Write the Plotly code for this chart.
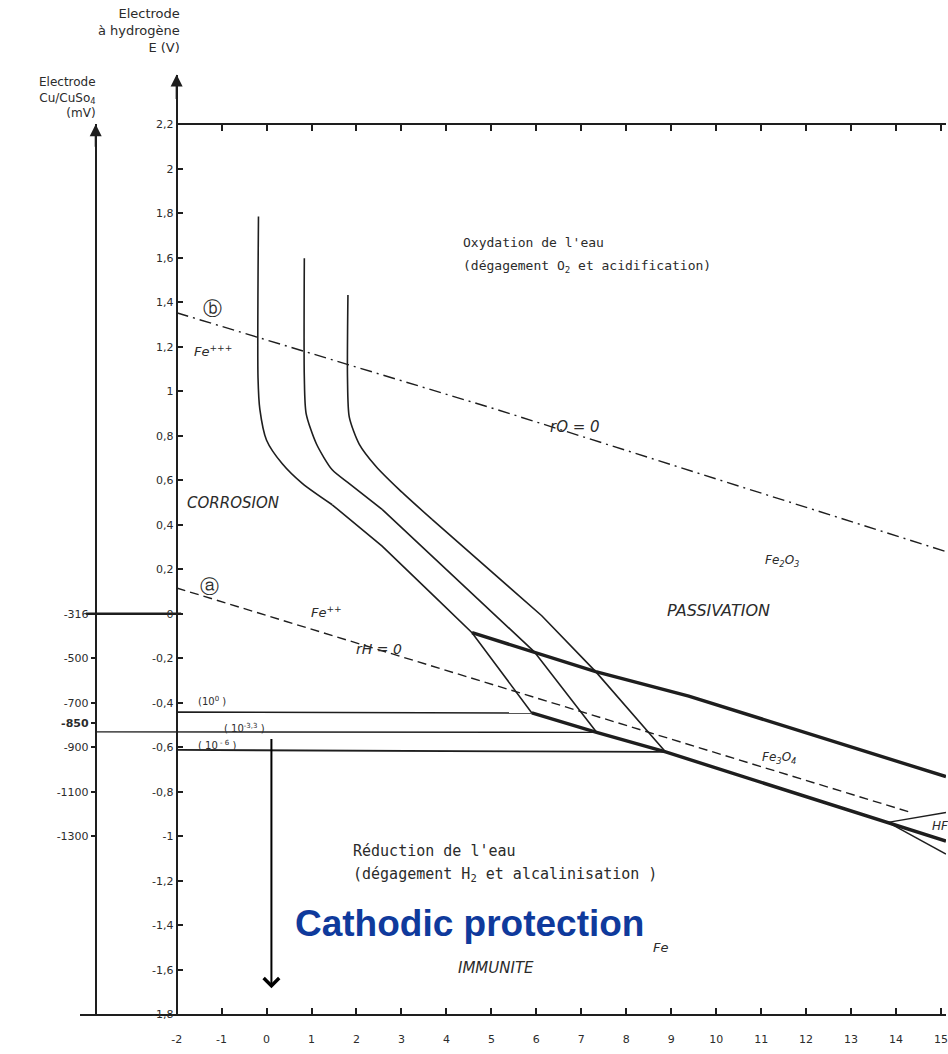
import plotly.graph_objects as go

# ---------------- data ----------------
ph_ticks = list(range(-2, 16))
ph_ticklabels = [str(v) for v in ph_ticks]

e_ticks = [2.2, 2.0, 1.8, 1.6, 1.4, 1.2, 1.0, 0.8, 0.6, 0.4, 0.2, 0.0,
           -0.2, -0.4, -0.6, -0.8, -1.0, -1.2, -1.4, -1.6, -1.8]
e_ticklabels = ["2,2", "2", "1,8", "1,6", "1,4", "1,2", "1", "0,8", "0,6", "0,4", "0,2", "0",
                "-0,2", "-0,4", "-0,6", "-0,8", "-1", "-1,2", "-1,4", "-1,6", "-1,8"]

cu_tick_e = [0.0, -0.2, -0.4, -0.49, -0.6, -0.8, -1.0]
cu_ticklabels = ["-316", "-500", "-700", "<b>-850</b>", "-900", "-1100", "-1300"]

# corrosion boundaries (three Fe2+ concentrations)
curve1_ph = [-0.18, -0.19, -0.15, 0.0, 0.35, 0.80, 1.46, 2.57, 3.68, 4.57, 5.90]
curve1_e = [1.786, 1.06, 0.92, 0.78, 0.674, 0.585, 0.49, 0.304, 0.088, -0.085, -0.446]
curve2_ph = [0.84, 0.84, 0.88, 1.11, 1.46, 1.84, 2.57, 3.68, 4.79, 5.95, 7.34]
curve2_e = [1.598, 1.06, 0.90, 0.763, 0.647, 0.585, 0.469, 0.259, 0.049, -0.17, -0.533]
curve3_ph = [1.81, 1.80, 1.84, 2.06, 2.44, 2.95, 3.68, 4.79, 6.12, 7.32, 8.875]
curve3_e = [1.433, 1.06, 0.884, 0.763, 0.661, 0.558, 0.424, 0.228, -0.009, -0.26, -0.621]
bend_end = 7  # points before this index form the rounded (vertical -> oblique) part

# Fe2O3 / Fe3O4 and Fe3O4 / Fe boundaries (thick)
upper_ph = [4.57, 7.32, 9.39, 15.11]
upper_e = [-0.085, -0.26, -0.37, -0.732]
lower_ph = [5.90, 7.34, 8.875, 11.83, 13.82, 15.11]
lower_e = [-0.446, -0.533, -0.621, -0.8125, -0.9375, -1.022]

# HFeO2- boundaries
hfe_up_ph = [13.82, 15.11]
hfe_up_e = [-0.9375, -0.893]
hfe_dn_ph = [13.82, 15.11]
hfe_dn_e = [-0.9375, -1.08]

# Fe / Fe2+ horizontal lines (10^0, 10^-3.3, 10^-6)
h0_ph = [-2.0, 5.90]
h0_e = [-0.442, -0.446]
h33_ph = [-3.80, 7.34]
h33_e = [-0.531, -0.533]
h6_ph = [-2.0, 8.875]
h6_e = [-0.612, -0.621]

# water lines
a_ph = [-2.0, 14.33]
a_e = [0.116, -0.893]
b_ph = [-2.0, 5.17, 15.09]
b_e = [1.353, 0.915, 0.281]

# reference -316 mV line between the two axes
ref_ph = [-4.02, -1.9]
ref_e = [0.0, 0.0]

# ---------------- figure ----------------
W, H = 948, 1054
INK = "#1e1e1e"
TXT = "#2b2b2b"
FONT = "DejaVu Sans"
MONO = "DejaVu Sans Mono"

fig = go.Figure()


def line(x, y, width, dash="solid", shape="linear", xa="x", ya="y"):
    fig.add_trace(go.Scatter(x=x, y=y, mode="lines", xaxis=xa, yaxis=ya,
                             line=dict(color=INK, width=width, dash=dash, shape=shape,
                                       smoothing=0.7),
                             hoverinfo="skip"))


for cx, cy in [(curve1_ph, curve1_e), (curve2_ph, curve2_e), (curve3_ph, curve3_e)]:
    line(cx[:bend_end], cy[:bend_end], 1.6, shape="spline")
    line(cx[bend_end - 1:], cy[bend_end - 1:], 1.6)

line(upper_ph, upper_e, 3.4)
line(lower_ph, lower_e, 3.4)
line(hfe_up_ph, hfe_up_e, 1.4)
line(hfe_dn_ph, hfe_dn_e, 1.4)
line(h0_ph, h0_e, 1.6)
line(h33_ph, h33_e, 1.4)
line(h6_ph, h6_e, 1.8)
line(a_ph, a_e, 1.4, dash="9px,5px")
line(b_ph, b_e, 1.4, dash="12px,5px,2px,5px")
line(ref_ph, ref_e, 2.6)

# invisible traces so that the extra axes are drawn
fig.add_trace(go.Scatter(x=[-3.8], y=[0], mode="markers", xaxis="x", yaxis="y2",
                         marker=dict(size=1, opacity=0), hoverinfo="skip"))
fig.add_trace(go.Scatter(x=[0], y=[2.2], mode="markers", xaxis="x2", yaxis="y",
                         marker=dict(size=1, opacity=0), hoverinfo="skip"))

tickfont = dict(family=FONT, size=11, color=TXT)
CLEAR = "rgba(0,0,0,0)"

fig.update_layout(
    width=W, height=H,
    margin=dict(l=0, r=0, t=0, b=0),
    paper_bgcolor="white", plot_bgcolor=CLEAR,
    showlegend=False,
    xaxis=dict(domain=[80 / W, 1], range=[-4.153, 15.111], anchor="y",
               showgrid=False, zeroline=False, showline=True, linecolor=INK, linewidth=2,
               ticks="inside", ticklen=6, tickwidth=1.5, tickcolor=INK,
               tickvals=ph_ticks, ticktext=ph_ticklabels, tickfont=tickfont,
               ticklabelstandoff=14, ticklabeloverflow="allow"),
    yaxis=dict(domain=[(H - 1021) / H, (H - 75) / H], range=[-1.8, 2.424],
               anchor="free", position=177 / W,
               showgrid=False, zeroline=False, showline=True, linecolor=INK, linewidth=2,
               ticks="inside", ticklen=5, tickwidth=1.5, tickcolor=INK,
               tickvals=e_ticks, ticktext=e_ticklabels, tickfont=tickfont),
    yaxis2=dict(domain=[(H - 1021) / H, (H - 125) / H], range=[-1.8, 2.2],
                anchor="free", position=96 / W,
                showgrid=False, zeroline=False, showline=True, linecolor=INK, linewidth=2,
                ticks="outside", ticklen=4, tickwidth=1.5, tickcolor=INK,
                tickvals=cu_tick_e, ticktext=cu_ticklabels, tickfont=tickfont),
    xaxis2=dict(domain=[177 / W, 1], range=[-2, 15.111], anchor="free",
                position=(H - 125) / H, side="top",
                showgrid=False, zeroline=False, showline=True, linecolor=INK, linewidth=2,
                ticks="inside", ticklen=6, tickwidth=1.5, tickcolor=INK,
                tickvals=ph_ticks, showticklabels=False),
)

ann = []


def text(t, x, y, size=11, xanchor="left", color=TXT, family=FONT, xref="x", yref="y",
         yanchor="middle", align="left"):
    ann.append(dict(text=t, x=x, y=y, xref=xref, yref=yref, showarrow=False,
                    xanchor=xanchor, yanchor=yanchor, align=align,
                    font=dict(family=family, size=size, color=color)))


# axis titles
text("Electrode<br>à hydrogène<br>E (V)", 182 / W, 1 - 4 / H, size=13,
     xanchor="right", xref="paper", yref="paper", yanchor="top", align="right")
text("Electrode<br>Cu/CuSo<sub>4</sub><br>(mV)", 98 / W, 1 - 73 / H, size=12,
     xanchor="right", xref="paper", yref="paper", yanchor="top", align="right")

# region labels
text("Oxydation de l'eau", 4.33, 1.670, size=13, family=MONO)
text("(dégagement O<sub>2</sub> et acidification)", 4.33, 1.562, size=13, family=MONO)
text("ⓑ", -1.20, 1.375, size=19, xanchor="center")
text("ⓐ", -1.27, 0.125, size=19, xanchor="center")
text("<i>Fe<sup>+++</sup></i>", -1.65, 1.18, size=13)
text("<i>CORROSION</i>", -1.82, 0.496, size=15)
text("<i>Fe<sup>++</sup></i>", 0.95, 0.01, size=13)
text("<i>rH = 0</i>", 1.95, -0.16, size=14)
text("<i>rO = 0</i>", 6.25, 0.84, size=15)
text("<i>Fe<sub>2</sub>O<sub>3</sub></i>", 11.05, 0.235, size=12)
text("<i>PASSIVATION</i>", 8.87, 0.013, size=16)
text("<i>Fe<sub>3</sub>O<sub>4</sub></i>", 10.98, -0.648, size=12)
text("<i>HFeO<sub>2</sub><sup>-</sup></i>", 14.76, -0.955, size=12)
text("Réduction de l'eau", 1.88, -1.067, size=15, family=MONO)
text("(dégagement H<sub>2</sub> et alcalinisation )", 1.88, -1.170, size=15, family=MONO)
text("<i>Fe</i>", 8.54, -1.50, size=13)
text("<i>IMMUNITE</i>", 4.22, -1.59, size=15)
text("(10<sup>0</sup> )", -1.56, -0.39, size=10)
text("( 10<sup>-3,3</sup> )", -1.00, -0.513, size=10)
text("( 10<sup> - 6</sup> )", -1.56, -0.592, size=10)
text("<b>Cathodic protection</b>", 0.59, -1.39, size=37, color="#0F3A9C",
     family="Liberation Sans")

# axis arrows and cathodic protection arrow
ann.append(dict(x=-2, y=2.424, xref="x", yref="y", ax=0, ay=26, text="",
                showarrow=True, arrowhead=2, arrowsize=1.2, arrowwidth=2, arrowcolor=INK))
ann.append(dict(x=-3.80, y=2.2, xref="x", yref="y2", ax=0, ay=24, text="",
                showarrow=True, arrowhead=2, arrowsize=1.2, arrowwidth=2, arrowcolor=INK))
ann.append(dict(x=0.108, y=-1.683, xref="x", yref="y", axref="x", ayref="y",
                ax=0.108, ay=-0.556, text="", showarrow=True, arrowhead=4,
                arrowsize=1.5, arrowwidth=2, arrowcolor="black"))

fig.update_layout(annotations=ann)

fig.write_html("out.html", config={"displayModeBar": False},
               post_script="document.body.style.margin='0';document.body.style.overflow='hidden';")
